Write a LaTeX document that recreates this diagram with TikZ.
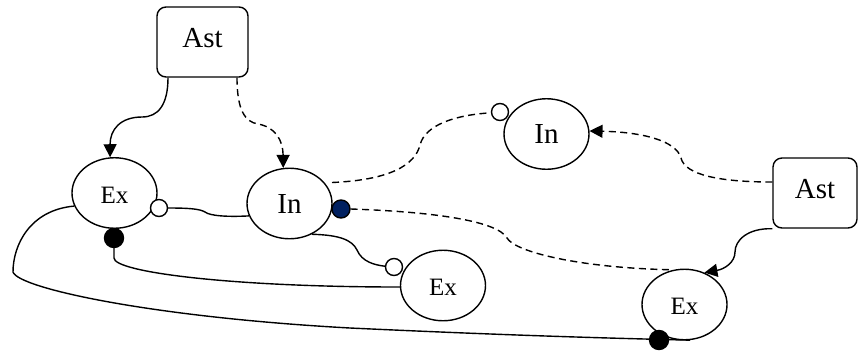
\documentclass[tikz,border=0pt]{standalone}
\usepackage{fontspec}
\setmainfont{Liberation Serif}
\usetikzlibrary{shapes.geometric,arrows.meta,calc}
\definecolor{navy}{RGB}{0,32,96}
\begin{document}
\begin{tikzpicture}[x=1pt,y=-1pt,
  line width=1.4pt,
  ast/.style={draw, rounded corners=9pt, minimum width=91pt, minimum height=70pt, inner sep=0pt, font=\fontsize{29}{31}\selectfont, text depth=8pt},
  ell/.style={draw, ellipse, minimum width=85pt, minimum height=70.5pt, inner sep=0pt},
  inn/.style={ell, font=\fontsize{29}{31}\selectfont},
  exx/.style={ell, font=\fontsize{25}{27}\selectfont, text height=20.5pt},
  odot/.style={draw, circle, fill=white, minimum size=17pt, inner sep=0pt},
  bdot/.style={draw, circle, fill=black, minimum size=19pt, inner sep=0pt},
  ndot/.style={draw, circle, fill=navy, minimum size=18pt, inner sep=0pt},
  dsh/.style={dash pattern=on 7pt off 4.5pt},
  tip/.style={-{Triangle[length=13pt,width=13pt]}},
]
\useasboundingbox (0,0) rectangle (858,354);

% nodes
\node[ast] (Ast1) at (202.5,42) {Ast};
\node[ast, minimum width=84pt] (Ast2) at (815,193) {Ast};
\node[exx] (Ex1) at (114.5,193) {Ex};
\node[inn] (In1) at (289.5,203.5) {In};
\node[inn] (In2) at (546.5,134) {In};
\node[exx] (Ex2) at (443,285.5) {Ex};
\node[exx] (Ex3) at (684.5,304.5) {Ex};

% end markers
\node[odot] (oc1) at ($(Ex1)+(44.5,15)$) {};
\node[bdot] (bd1) at ($(Ex1)+(-0.5,45)$) {};
\node[ndot] (nd1) at ($(In1)+(51.5,5.5)$) {};
\node[odot] (oc2) at ($(Ex2)+(-49,-18.5)$) {};
\node[odot] (oc3) at ($(In2)+(-46.5,-22)$) {};
\coordinate (bd2pos) at ($(Ex3)+(-25.5,35.5)$);

% connectors
\draw[tip] ([xshift=-34.5pt]Ast1.south) .. controls (168,105) and (158,117) .. (142,117)
   .. controls (120,117) and (110,130) .. (Ex1.97);
\draw[tip,dsh] ([xshift=34.5pt]Ast1.south) .. controls (237,110) and (245,122) .. (258,124)
   .. controls (275,127) and (283,140) .. (In1.100);
\draw[dsh] ($(In1)+(42.5,-21)$) .. controls (390,180) and (415,165) .. (420,145)
   .. controls (425,125) and (455,115) .. (oc3.185);
\draw[tip,dsh] ([yshift=11pt]Ast2.west) .. controls (720,182) and (685,175) .. (681,158)
   .. controls (676,140) and (640,132) .. (In2.4);
\draw[tip] (Ast2.south west) .. controls (748,228) and (735,240) .. (735,252)
   .. controls (735,262) and (725,269) .. (Ex3.58);
\draw[dsh] (nd1.east) .. controls (440,212) and (498,222) .. (507,238)
   .. controls (515,252) and (580,268) .. (Ex3.108);
\draw (oc1.east) .. controls (190,208) and (200,209) .. (205,212)
   .. controls (210,216) and (228,217) .. (In1.197);
\draw (bd1.south) -- (114,258) .. controls (114,272) and (230,287) .. (Ex2.182);
\draw (In1.306) .. controls (340,235) and (352,240) .. (357,250)
   .. controls (362,262) and (375,265) .. (oc2.175);
\draw (Ex1.198) .. controls (30,210) and (13,245) .. (13,272)
   .. controls (18,288) and (150,317) .. (350,328)
   .. controls (500,335) and (600,338) .. (Ex3.279);

\node[bdot] (bd2) at (bd2pos) {};
\end{tikzpicture}
\end{document}
